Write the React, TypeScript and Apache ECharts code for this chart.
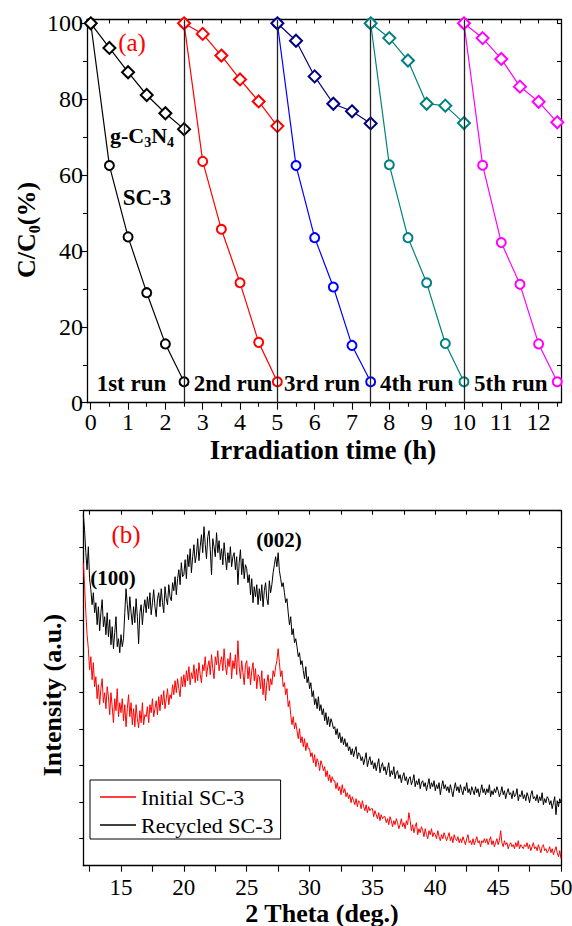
import React, { useEffect, useRef } from "react";
import * as echarts from "echarts";

const FONT = "Liberation Serif, Times New Roman, Times, serif";

// ---------- (a) photocatalytic cycling runs ----------
const runStarts = [0, 2.5, 5, 7.5, 10];
const runTimes = [0, 0.5, 1, 1.5, 2, 2.5];
const runLabels = ["1st run", "2nd run", "3rd run", "4th run", "5th run"];
const sc3Runs = [
  [100, 62.5, 43.7, 29.0, 15.5, 5.5],
  [100, 63.6, 45.7, 31.6, 15.9, 5.5],
  [100, 62.5, 43.5, 30.5, 15.1, 5.5],
  [100, 62.7, 43.5, 31.6, 15.6, 5.5],
  [100, 62.6, 42.2, 31.2, 15.5, 5.5],
];
const gcnRuns = [
  [100, 93.5, 87.1, 81.1, 76.3, 72.1],
  [100, 97.2, 91.5, 85.2, 79.4, 72.9],
  [100, 95.4, 86.0, 78.8, 76.8, 73.6],
  [100, 96.1, 90.2, 78.8, 78.3, 73.7],
  [100, 96.1, 90.6, 83.3, 79.3, 73.9],
];
const sc3Colors = ["#000000", "#ff0000", "#0000ff", "#008080", "#ff00ff"];
const gcnColors = ["#000000", "#ff0000", "#000080", "#008080", "#ff00ff"];
const runSeparators = [2.5, 5, 7.5, 10];
const xMajorA = [0, 1, 2, 3, 4, 5, 6, 7, 8, 9, 10, 11, 12];
const xMinorA = [0.5, 1.5, 2.5, 3.5, 4.5, 5.5, 6.5, 7.5, 8.5, 9.5, 10.5, 11.5, 12.5];
const xTopA = [0, 0.5, 1, 1.5, 2, 2.5, 3, 3.5, 4, 4.5, 5, 5.5, 6, 6.5, 7, 7.5, 8, 8.5, 9, 9.5, 10, 10.5, 11, 11.5, 12, 12.5];
const yMajorA = [0, 20, 40, 60, 80, 100];
const yMinorA = [10, 30, 50, 70, 90];
const yAllA = [0, 10, 20, 30, 40, 50, 60, 70, 80, 90, 100];

// ---------- (b) XRD patterns, 2θ from 12 to 50 in 0.1° steps ----------
const thetaStart = 12;
const thetaStep = 0.1;
const initialSC3 = [
  312, 290, 262, 240, 226, 205, 218, 195, 212, 188,
  198, 176, 190, 170, 186, 196, 172, 182, 166, 188,
  178, 160, 182, 168, 152, 176, 164, 186, 158, 172,
  162, 176, 154, 170, 148, 166, 180, 158, 172, 150,
  166, 148, 170, 156, 147, 164, 152, 172, 150, 160,
  158, 168, 152, 170, 162, 176, 158, 166, 174, 160,
  178, 164, 180, 170, 184, 166, 176, 186, 170, 180,
  176, 190, 180, 194, 182, 196, 186, 178, 198, 188,
  200, 188, 204, 194, 208, 190, 202, 196, 210, 192,
  206, 194, 212, 200, 192, 210, 204, 218, 198, 208,
  214, 200, 220, 206, 196, 218, 210, 224, 204, 212,
  218, 204, 226, 210, 200, 216, 208, 222, 196, 214,
  206, 220, 200, 234, 208, 196, 214, 202, 190, 210,
  214, 196, 208, 190, 204, 212, 194, 206, 186, 200,
  198, 186, 204, 180, 196, 174, 192, 200, 184, 196,
  190, 204, 198, 208, 214, 226, 212, 198, 204, 188,
  192, 180, 186, 168, 174, 160, 150, 158, 146, 152,
  144, 136, 146, 132, 138, 128, 136, 124, 132, 126,
  126, 118, 122, 112, 120, 108, 116, 112, 104, 114,
  110, 104, 108, 98, 104, 94, 100, 92, 98, 94,
  94, 86, 92, 84, 88, 80, 90, 82, 86, 78,
  82, 76, 80, 72, 78, 74, 70, 76, 68, 74,
  72, 66, 74, 68, 64, 70, 62, 68, 64, 66,
  66, 58, 64, 60, 56, 62, 54, 60, 56, 58,
  58, 52, 56, 50, 58, 54, 48, 54, 50, 56,
  52, 46, 50, 56, 48, 52, 46, 54, 50, 62,
  54, 44, 50, 42, 48, 52, 40, 46, 42, 48,
  44, 38, 46, 40, 36, 44, 40, 46, 38, 42,
  40, 36, 44, 38, 34, 40, 36, 42, 38, 34,
  38, 42, 34, 38, 32, 40, 36, 34, 38, 32,
  36, 32, 38, 34, 30, 36, 40, 32, 34, 30,
  36, 30, 34, 38, 32, 34, 28, 34, 32, 36,
  32, 36, 30, 34, 38, 30, 34, 28, 32, 36,
  30, 34, 44, 32, 28, 34, 30, 32, 26, 30,
  32, 28, 30, 26, 32, 28, 34, 26, 30, 28,
  26, 30, 28, 32, 26, 30, 24, 28, 32, 26,
  28, 24, 30, 26, 22, 28, 30, 24, 26, 22,
  24, 28, 22, 26, 20, 24, 28, 22, 18, 24,
  16,
];
const recycledSC3 = [
  360, 345, 322, 305, 328, 296, 285, 270, 282, 262,
  272, 250, 268, 244, 262, 275, 248, 258, 240, 262,
  238, 255, 230, 248, 226, 242, 258, 228, 236, 222,
  240, 228, 236, 262, 286, 270, 255, 278, 262, 250,
  268, 252, 276, 258, 231, 262, 270, 250, 266, 275,
  262, 278, 266, 282, 260, 272, 285, 268, 258, 276,
  282, 268, 286, 272, 262, 288, 276, 270, 290, 278,
  274, 292, 284, 298, 280, 296, 305, 290, 312, 298,
  300, 315, 296, 320, 308, 326, 302, 318, 330, 312,
  320, 336, 314, 328, 340, 322, 348, 330, 316, 338,
  344, 325, 300, 336, 328, 318, 342, 322, 334, 315,
  326, 310, 332, 318, 305, 322, 312, 328, 308, 318,
  322, 305, 318, 290, 312, 325, 300, 316, 296, 310,
  306, 292, 300, 280, 296, 272, 288, 278, 290, 270,
  286, 274, 290, 268, 284, 292, 276, 270, 294, 282,
  290, 302, 310, 318, 308, 322, 304, 296, 288, 292,
  282, 272, 276, 262, 250, 258, 240, 246, 232, 236,
  228, 218, 222, 210, 214, 204, 196, 208, 192, 198,
  186, 192, 178, 184, 170, 176, 166, 178, 164, 170,
  160, 166, 154, 162, 150, 158, 148, 156, 152, 146,
  148, 140, 146, 136, 142, 132, 138, 130, 136, 128,
  132, 124, 128, 120, 126, 118, 124, 128, 116, 122,
  120, 114, 118, 110, 116, 122, 108, 114, 118, 110,
  114, 106, 112, 104, 110, 116, 102, 108, 112, 104,
  108, 100, 106, 112, 98, 104, 100, 108, 96, 102,
  104, 96, 100, 92, 98, 102, 94, 98, 90, 96,
  98, 90, 94, 100, 88, 94, 90, 96, 86, 92,
  94, 88, 92, 84, 90, 96, 86, 92, 88, 94,
  84, 90, 86, 92, 80, 88, 94, 86, 90, 84,
  88, 82, 90, 84, 78, 86, 92, 84, 88, 82,
  90, 84, 80, 88, 84, 92, 82, 86, 80, 88,
  84, 80, 88, 82, 86, 78, 84, 90, 82, 86,
  80, 86, 82, 90, 78, 84, 80, 86, 82, 88,
  84, 78, 82, 88, 80, 84, 76, 82, 86, 80,
  82, 76, 84, 78, 80, 86, 74, 80, 78, 84,
  76, 80, 74, 82, 78, 72, 80, 84, 76, 78,
  74, 80, 72, 78, 74, 82, 70, 76, 72, 78,
  76, 70, 74, 66, 72, 78, 60, 74, 68, 76,
  72,
];
const xTicksB = [12.5, 15, 17.5, 20, 22.5, 25, 27.5, 30, 32.5, 35, 37.5, 40, 42.5, 45, 47.5, 50];
const xLabelsB = [15, 20, 25, 30, 35, 40, 45, 50];
const yTicksB = [36.4, 72.8, 109.2, 145.6, 182, 218.4, 254.8, 291.2, 327.6, 364];

const AX_LINE = { color: "#000", width: 1.3 };

function axis(o: any) {
  return {
    type: "value",
    splitLine: { show: false },
    axisLine: { show: o.line !== false, onZero: false, lineStyle: AX_LINE },
    axisTick: {
      show: true,
      inside: !!o.inside,
      length: o.len,
      lineStyle: { color: "#000", width: 1.1 },
      customValues: o.ticks,
    },
    axisLabel: o.labels
      ? {
          show: true,
          customValues: o.labels,
          margin: o.margin,
          fontFamily: FONT,
          fontSize: o.fontSize,
          color: "#000",
        }
      : { show: false },
    ...o.base,
  };
}

function buildOption() {
  const series: any[] = [];
  for (let i = 0; i < 5; i++) {
    series.push({
      name: "SC-3 " + runLabels[i],
      type: "line",
      xAxisIndex: 0,
      yAxisIndex: 0,
      data: runTimes.map((t, j) => [runStarts[i] + t, sc3Runs[i][j]]),
      symbol: "emptyCircle",
      symbolSize: 9,
      lineStyle: { color: sc3Colors[i], width: 1.2 },
      itemStyle: { color: sc3Colors[i], borderWidth: 1.2 },
      z: 3,
      ...(i === 0
        ? {
            markLine: {
              silent: true,
              symbol: ["none", "none"],
              label: { show: false },
              lineStyle: { color: "#222", width: 1.3, type: "solid" },
              data: runSeparators.map((v) => ({ xAxis: v })),
            },
          }
        : {}),
    });
    series.push({
      name: "g-C3N4 " + runLabels[i],
      type: "line",
      xAxisIndex: 0,
      yAxisIndex: 0,
      data: runTimes.map((t, j) => [runStarts[i] + t, gcnRuns[i][j]]),
      symbol: "emptyDiamond",
      symbolSize: 12,
      lineStyle: { color: gcnColors[i], width: 1.2 },
      itemStyle: { color: gcnColors[i], borderWidth: 1.2 },
      z: 4,
    });
  }
  series.push({
    name: "Initial SC-3",
    type: "line",
    xAxisIndex: 3,
    yAxisIndex: 3,
    data: initialSC3.map((v, i) => [thetaStart + i * thetaStep, v]),
    symbol: "none",
    showSymbol: false,
    legendIcon: "rect",
    lineStyle: { color: "#ff0000", width: 1 },
    itemStyle: { color: "#ff0000" },
    z: 2,
  });
  series.push({
    name: "Recycled SC-3",
    type: "line",
    xAxisIndex: 3,
    yAxisIndex: 3,
    data: recycledSC3.map((v, i) => [thetaStart + i * thetaStep, v]),
    symbol: "none",
    showSymbol: false,
    legendIcon: "rect",
    lineStyle: { color: "#000000", width: 1 },
    itemStyle: { color: "#000000" },
    z: 3,
  });

  const bold = (t: string, x: number, y: number, size: number, extra: any = {}) => ({
    type: "text",
    x,
    y,
    ...extra,
    style: {
      text: t,
      fill: "#000",
      fontFamily: FONT,
      fontSize: size,
      fontWeight: "bold",
      align: "center",
      verticalAlign: "middle",
    },
  });

  const runCenters = [131.5, 233, 322, 416.7, 510.8];

  const graphic: any[] = [
    {
      type: "text",
      x: 132,
      y: 42,
      style: { text: "(a)", fill: "#ff0000", fontFamily: FONT, fontSize: 25, align: "center", verticalAlign: "middle" },
    },
    {
      type: "text",
      x: 110,
      y: 135,
      style: {
        text: "{b|g-C}{s|3}{b|N}{s|4}",
        align: "left",
        verticalAlign: "middle",
        rich: {
          b: { fontFamily: FONT, fontSize: 22, fontWeight: "bold", fill: "#000", lineHeight: 28 },
          s: { fontFamily: FONT, fontSize: 14, fontWeight: "bold", fill: "#000", lineHeight: 14, verticalAlign: "bottom" },
        },
      },
    },
    bold("SC-3", 147, 197, 23),
    ...runLabels.map((t, i) => bold(t, runCenters[i], 383, 23)),
    {
      type: "text",
      x: 26,
      y: 230,
      rotation: Math.PI / 2,
      style: {
        text: "{b|C/C}{s|0}{b|(%)}",
        align: "center",
        verticalAlign: "middle",
        rich: {
          b: { fontFamily: FONT, fontSize: 26, fontWeight: "bold", fill: "#000", lineHeight: 32 },
          s: { fontFamily: FONT, fontSize: 16, fontWeight: "bold", fill: "#000", lineHeight: 16, verticalAlign: "bottom" },
        },
      },
    },
    bold("Irradiation time (h)", 323, 450, 27),
    {
      type: "text",
      x: 126,
      y: 534,
      style: { text: "(b)", fill: "#ff0000", fontFamily: FONT, fontSize: 25, align: "center", verticalAlign: "middle" },
    },
    bold("(100)", 113, 578, 21),
    bold("(002)", 279, 540, 21),
    bold("Intensity (a.u.)", 52, 695, 26, { rotation: Math.PI / 2 }),
    bold("2 Theta (deg.)", 322, 913, 26),
  ];

  const topX = { min: -0.1, max: 12.6, gridIndex: 0 };
  const topY = { min: 0, max: 101, gridIndex: 0 };
  const botX = { min: 12, max: 50, gridIndex: 1 };
  const botY = { min: 9, max: 364, gridIndex: 1 };

  return {
    animation: false,
    backgroundColor: "#fff",
    textStyle: { fontFamily: FONT },
    grid: [
      { left: 87, top: 19.5, width: 474, height: 383.2, outerBoundsMode: "none", containLabel: false },
      { left: 83.3, top: 510.7, width: 477.7, height: 355, outerBoundsMode: "none", containLabel: false },
    ],
    xAxis: [
      axis({ base: { ...topX, position: "bottom" }, ticks: xMajorA, labels: xMajorA, len: 7, margin: 7, fontSize: 24 }),
      axis({ base: { ...topX, position: "bottom" }, ticks: xMinorA, len: 4, line: false }),
      axis({ base: { ...topX, position: "top" }, ticks: xTopA, len: 4, inside: true }),
      axis({ base: { ...botX, position: "bottom" }, ticks: xTicksB, labels: xLabelsB, len: 6, margin: 10, fontSize: 23 }),
      axis({ base: { ...botX, position: "top" }, ticks: xTicksB, len: 4, inside: true }),
    ],
    yAxis: [
      axis({ base: { ...topY, position: "left" }, ticks: yMajorA, labels: yMajorA, len: 7, margin: 4, fontSize: 24 }),
      axis({ base: { ...topY, position: "left" }, ticks: yMinorA, len: 4, line: false }),
      axis({ base: { ...topY, position: "right" }, ticks: yAllA, len: 4, inside: true }),
      axis({ base: { ...botY, position: "left" }, ticks: yTicksB, len: 4 }),
      axis({ base: { ...botY, position: "right" }, ticks: yTicksB, len: 4, inside: true }),
    ],
    legend: {
      data: [
        { name: "Initial SC-3", icon: "rect" },
        { name: "Recycled SC-3", icon: "rect" },
      ],
      orient: "vertical",
      left: 90,
      top: 780,
      itemWidth: 36,
      itemHeight: 1.4,
      itemGap: 6,
      padding: [6, 7, 3, 10],
      borderColor: "#000",
      borderWidth: 1,
      borderRadius: 0,
      backgroundColor: "#fff",
      selectedMode: false,
      textStyle: { fontFamily: FONT, fontSize: 22, color: "#000" },
    },
    graphic,
    series,
  };
}

export default function App() {
  const ref = useRef<HTMLDivElement>(null);
  useEffect(() => {
    if (!ref.current) return;
    const chart = echarts.init(ref.current, null, { renderer: "svg" });
    chart.setOption(buildOption() as any);
    return () => chart.dispose();
  }, []);
  return (
    <div
      ref={ref}
      style={{ position: "fixed", left: 0, top: 0, width: 572, height: 926, background: "#fff" }}
    />
  );
}
